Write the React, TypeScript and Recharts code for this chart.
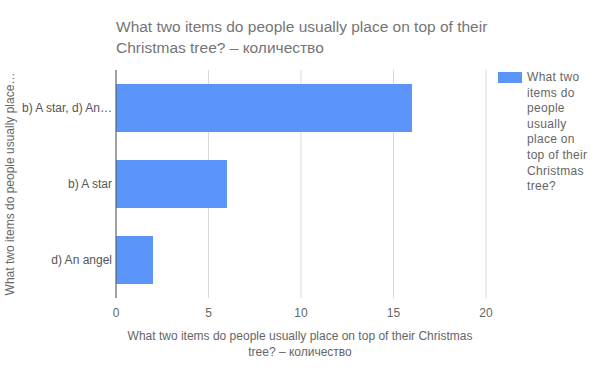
import React from "react";
import { BarChart, Bar, XAxis, YAxis, CartesianGrid } from "recharts";

const categories = ["b) A star, d) An angel", "b) A star", "d) An angel"];
const counts = [16, 6, 2];
const xTicks = [0, 5, 10, 15, 20];
const seriesName = "What two items do people usually place on top of their Christmas tree?";
const titleLines = ["What two items do people usually place on top of their", "Christmas tree? – количество"];
const xTitleLines = ["What two items do people usually place on top of their Christmas", "tree? – количество"];
const yTitle = "What two items do people usually place…";
const legendLines = ["What two", "items do", "people", "usually", "place on", "top of their", "Christmas", "tree?"];

const data = categories.map((c, i) => ({ name: c, value: counts[i] }));
const FONT = "'Liberation Sans', Arial, sans-serif";
const BLUE = "#5b95f9";

const truncate = (s: string) => (s.length > 16 ? s.slice(0, 16) + "…" : s);

const YTick = (props: any) => {
  const { x, y, payload } = props;
  return (
    <text x={x} y={y} dy="0.355em" textAnchor="end" fill="#555" fontSize={12} fontFamily={FONT}>
      {truncate(String(payload.value))}
    </text>
  );
};

const LegendBox = () => (
  <div
    title={seriesName}
    style={{ position: "absolute", left: 498, top: 70, width: 100, fontFamily: FONT, fontSize: 12, color: "#666", letterSpacing: 0.3 }}
  >
    <div style={{ position: "absolute", left: 0, top: 2, width: 24, height: 11, background: BLUE }} />
    <div style={{ marginLeft: 29, lineHeight: "15.6px" }}>
      {legendLines.map((l, i) => (
        <div key={i}>{l}</div>
      ))}
    </div>
  </div>
);

export default function App() {
  return (
    <div style={{ position: "absolute", left: 0, top: 0, width: 600, height: 371, background: "#fff", fontFamily: FONT }}>
      <div style={{ position: "absolute", left: 116, top: 16, fontSize: 15.5, lineHeight: "21px", color: "#757575", whiteSpace: "nowrap" }}>
        {titleLines.map((l, i) => (
          <div key={i}>{l}</div>
        ))}
      </div>
      <div style={{ position: "absolute", left: 100, width: 400, top: 328, fontSize: 12, lineHeight: "16px", color: "#666", textAlign: "center" }}>
        {xTitleLines.map((l, i) => (
          <div key={i}>{l}</div>
        ))}
      </div>
      <div
        style={{
          position: "absolute",
          left: 10,
          top: 184,
          transform: "translate(-50%, -50%) rotate(-90deg)",
          whiteSpace: "nowrap",
          fontSize: 12,
          color: "#666",
        }}
      >
        {yTitle}
      </div>
      <LegendBox />
      <BarChart
        width={600}
        height={371}
        data={data}
        layout="vertical"
        margin={{ top: 70, right: 114, bottom: 0, left: 0 }}
      >
        <CartesianGrid horizontal={false} stroke="#d9d9d9" />
        <XAxis
          type="number"
          domain={[0, 20]}
          ticks={xTicks}
          axisLine={false}
          tickLine={false}
          tickSize={0}
          tickMargin={10}
          height={73}
          tick={{ fill: "#666", fontSize: 12, fontFamily: FONT }}
        />
        <YAxis
          type="category"
          dataKey="name"
          width={116}
          axisLine={{ stroke: "#555" }}
          tickLine={false}
          tickSize={0}
          tickMargin={4}
          tick={<YTick />}
        />
        <Bar dataKey="value" name={seriesName} fill={BLUE} barSize={48} isAnimationActive={false} />
      </BarChart>
    </div>
  );
}
